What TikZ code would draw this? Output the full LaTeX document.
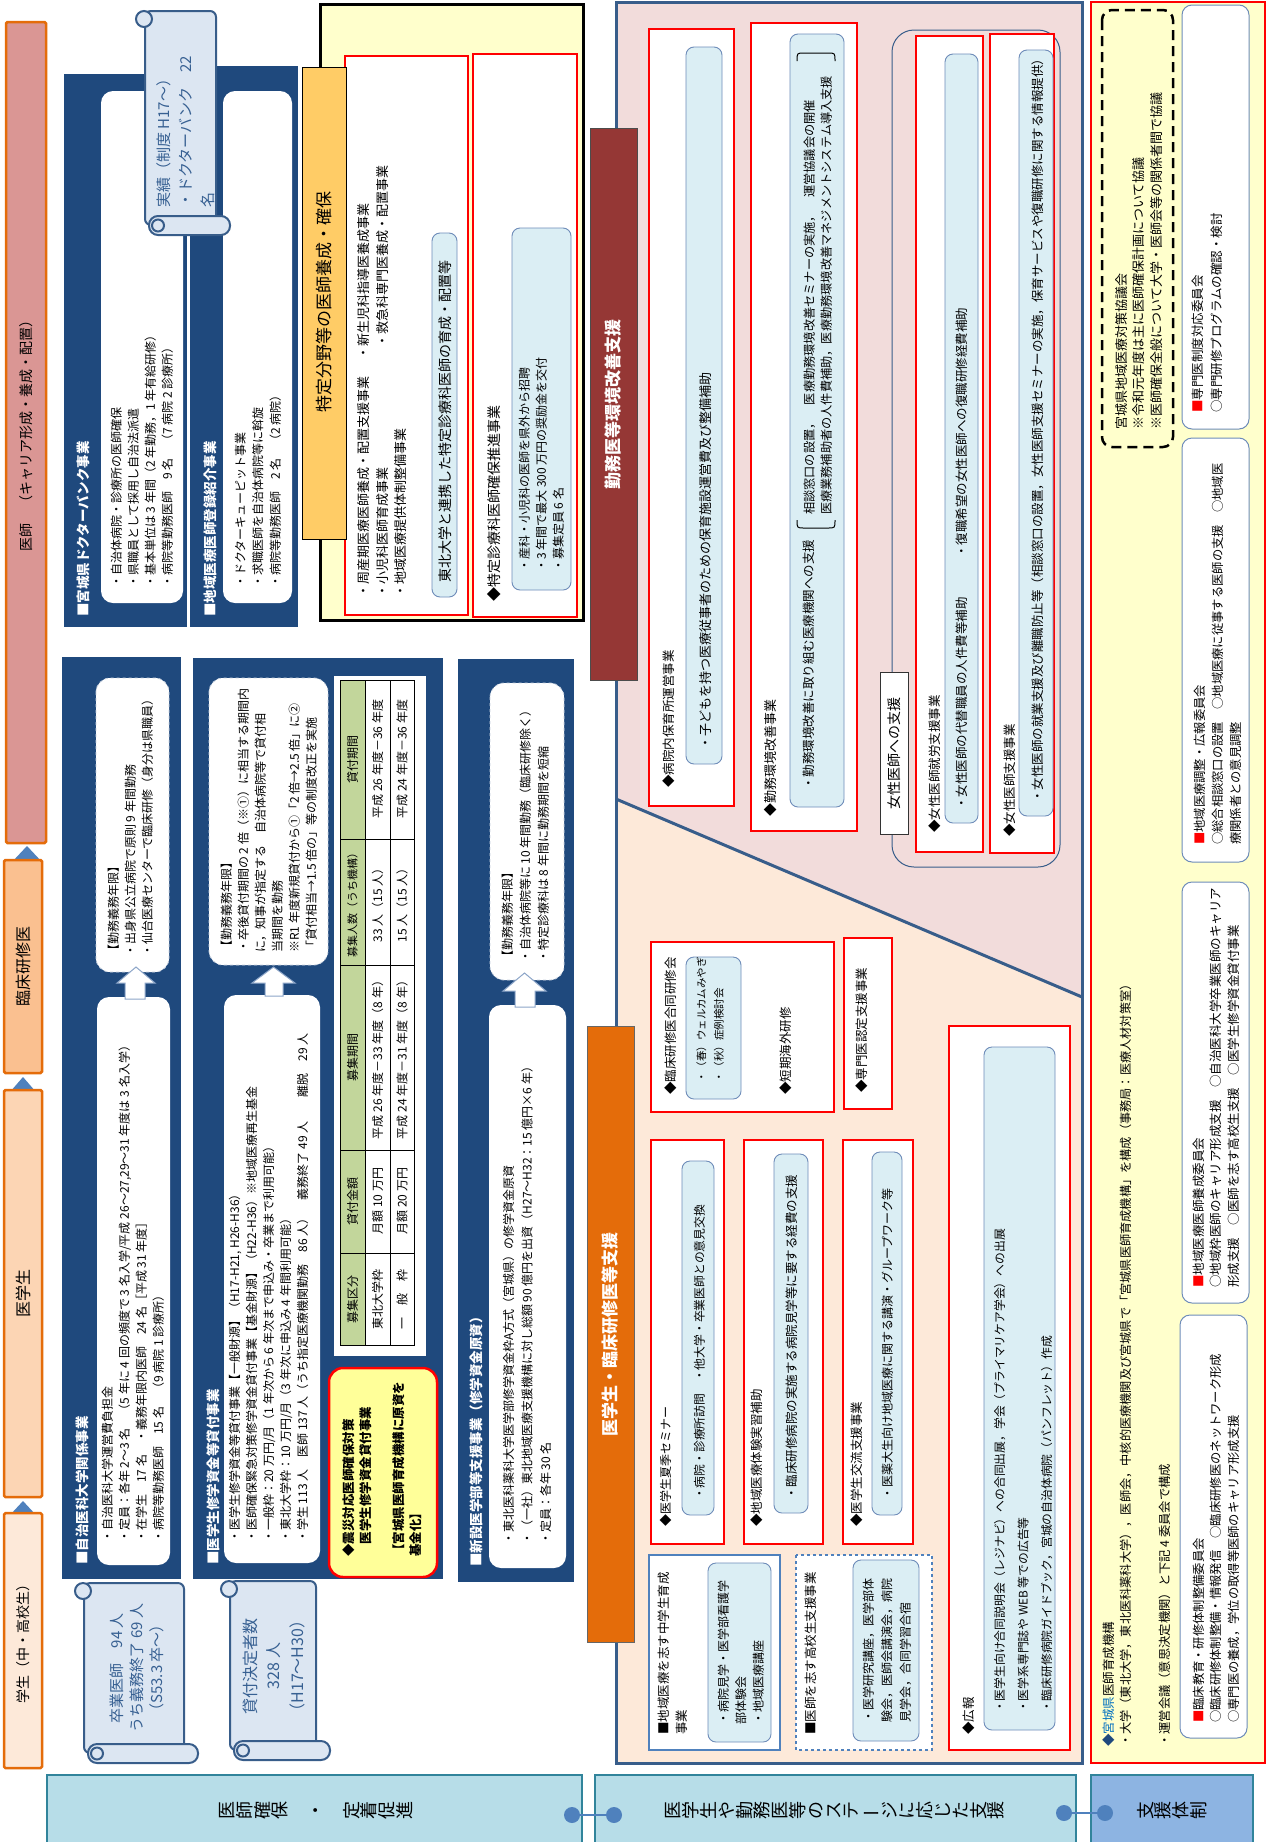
\documentclass[tikz,border=0pt]{standalone}
\usepackage{fontspec}
\setmainfont{Noto Sans CJK JP}
\definecolor{navyc}{RGB}{31,73,125}
\definecolor{bordb}{RGB}{56,93,138}
\definecolor{lbfill}{RGB}{219,238,244}
\definecolor{lbdraw}{RGB}{110,140,185}
\definecolor{scrollf}{RGB}{220,230,242}
\definecolor{scrolld}{RGB}{56,93,138}
\definecolor{scrolltxt}{RGB}{55,96,146}
\definecolor{hdra}{RGB}{218,150,148}
\definecolor{hdrb}{RGB}{250,192,144}
\definecolor{hdrc}{RGB}{252,213,180}
\definecolor{hdrd}{RGB}{253,233,217}
\definecolor{orgb}{RGB}{228,108,10}
\definecolor{pinkc}{RGB}{242,220,219}
\definecolor{peachc}{RGB}{253,233,217}
\definecolor{dred}{RGB}{149,55,53}
\definecolor{yelc}{RGB}{255,255,204}
\definecolor{tkor}{RGB}{255,204,102}
\definecolor{tblg}{RGB}{194,214,155}
\definecolor{yelb}{RGB}{255,255,153}
\definecolor{botf}{RGB}{183,221,232}
\definecolor{botd}{RGB}{49,132,155}
\definecolor{supf}{RGB}{141,180,226}
\definecolor{dotc}{RGB}{79,129,189}
\definecolor{arrd}{RGB}{140,165,200}
\definecolor{mblue}{RGB}{0,112,192}
\tikzset{
  rt/.style={rotate=90,anchor=north west,inner sep=0pt,align=left},
  rc/.style={rotate=90,anchor=center,inner sep=0pt,align=center},
  innerd/.style={fill=white,draw=navyc!25,dashed,line width=0.8pt,rounded corners=14pt},
  redbox/.style={fill=white,draw=red,line width=1.2pt},
  lbbox/.style={fill=lbfill,draw=lbdraw,line width=0.9pt,rounded corners=8pt},
  hdrbar/.style={draw=orgb,line width=2.5pt,rounded corners=1.5pt},
  scrl/.style={fill=scrollf,draw=scrolld,line width=2pt},
  arrst/.style={fill=white,draw=arrd,line width=1pt},
  botbox/.style={draw=botd,line width=2.5pt},
  dotn/.style={circle,fill=dotc,inner sep=0pt,minimum size=16pt},
  conn/.style={draw=dotc,line width=1.5pt},
  wbox/.style={fill=white,draw=lbdraw,line width=1pt,rounded corners=10pt},
}
\newcommand{\tx}[6]{\node[rt,font=\fontsize{#4}{#5}\selectfont] (#1) at ({#2-0.45*#4},#3) {#6};}
\newcommand{\scrollshape}[4]{%
  \draw[scrl,rounded corners=6pt] ({#1+10},{#2+1}) -- ({#3-14},{#2+1}) -- ({#3-14},{#4-10}) -- ({#1+10},{#4-10}) -- cycle;
  \draw[scrl] ({#1+9},{#2+9}) circle (8pt);
  \draw[scrl,rounded corners=9pt] ({#1+14},{#4-19}) rectangle (#3,#4);
  \draw[scrl] ({#1+23},{#4-9.5}) circle (6pt);
}
\newcommand{\uparr}[7]{\draw[arrst] (#5,#7) -- (#5,#4) -- (#1,#4) -- ({(#1+#2)/2},#3) -- (#2,#4) -- (#6,#4) -- (#6,#7) -- cycle;}
\begin{document}
\begin{tikzpicture}[x=1pt,y=-1pt]
\useasboundingbox (0,0) rectangle (1270,1842);
\fill[white] (0,0) rectangle (1270,1842);

% ===== header column =====
\fill[dotc] (27,846) -- (42,862) -- (12,862) -- cycle;
\fill[dotc] (23,1077) -- (36,1092) -- (10,1092) -- cycle;
\fill[dotc] (23,1501) -- (36,1515) -- (10,1515) -- cycle;
\draw[hdrbar,fill=hdra] (6,22) rectangle (46,843);
\draw[hdrbar,fill=hdrb] (4,860) rectangle (42,1073);
\draw[hdrbar,fill=hdrc] (4,1090) rectangle (42,1497);
\draw[hdrbar,fill=hdrd] (4,1513) rectangle (42,1768);
\node[rc,font=\fontsize{14}{14}\selectfont] (h1) at (26,432) {医師　（キャリア形成・養成・配置）};
\node[rc,font=\fontsize{16}{16}\selectfont] (h2) at (23,966) {臨床研修医};
\node[rc,font=\fontsize{16}{16}\selectfont] (h3) at (23,1293) {医学生};
\node[rc,font=\fontsize{14}{14}\selectfont] (h4) at (23,1640) {学生（中・高校生）};

% ===== upper navy blocks =====
\fill[navyc] (64,74) rectangle (187,627);
\fill[navyc] (190,66) rectangle (298,627);
\fill[white,rounded corners=12pt] (101,91) rectangle (183,603);
\fill[white,rounded corners=12pt] (223,91) rectangle (292,603);
\tx{nt1}{83}{617}{13.5}{16}{\color{white}\bfseries ■宮城県ドクターバンク事業}
\tx{nt2}{210}{617}{13.5}{16}{\color{white}\bfseries ■地域医療医師登録紹介事業}
\tx{b1}{116}{588}{12}{17}{・自治体病院・診療所の医師確保\\・県職員として採用し自治法派遣\\・基本単位は 3 年間（2 年勤務，1 年有給研修）\\・病院等勤務医師　9 名　（7 病院 2 診療所）}
\tx{b2}{240}{588}{12}{17.5}{・ドクターキューピット事業\\・求職医師を自治体病院等に斡旋\\・病院等勤務医師　2 名　（2 病院）}
\scrollshape{135}{10}{230}{235}
\tx{s3}{163}{208}{15}{22}{\color{scrolltxt}実績（制度 H17～）\\\color{scrolltxt}・ドクターバンク　22\\\color{scrolltxt}名}

% ===== lower navy blocks =====
\fill[navyc] (62,657) rectangle (181,1579);
\fill[navyc] (193,658) rectangle (443,1579);
\fill[navyc] (458,659) rectangle (574,1582);
\draw[innerd] (96,678) rectangle (169,972);
\fill[white,rounded corners=12pt] (97,997) rectangle (170,1565);
\draw[innerd] (209,678) rectangle (328,965);
\fill[white,rounded corners=12pt] (224,995) rectangle (320,1563);
\fill[white] (334,676) rectangle (426,1356);
\draw[innerd] (490,683) rectangle (564,980);
\fill[white,rounded corners=12pt] (489,1005) rectangle (566,1568);
\uparr{117}{155}{967}{983}{125}{145}{999}
\uparr{252}{295}{967}{983}{265}{283}{996}
\uparr{503}{546}{973}{991}{515}{535}{1007}
\tx{nt3}{82}{1565}{13.5}{16}{\color{white}\bfseries ■自治医科大学関係事業}
\tx{nt4}{213}{1565}{13.5}{16}{\color{white}\bfseries ■医学生修学資金等貸付事業}
\tx{nt5}{476}{1567}{13.5}{16}{\color{white}\bfseries ■新設医学部等支援事業（修学資金原資）}
\tx{b3}{107}{1543}{12}{17}{・自治医科大学運営費負担金\\・定員：各年 2～3 名　（5 年に 4 回の頻度で 3 名入学/平成 26～27,29～31 年度は 3 名入学）\\・在学生　17 名　・義務年限内医師　24 名［平成 31 年度］\\・病院等勤務医師　15 名　（9 病院 1 診療所）}
\tx{b3u}{113}{957}{12}{17}{【勤務義務年限】\\・出身県公立病院で原則 9 年間勤務\\・仙台医療センターで臨床研修（身分は県職員）}
\tx{b4}{234}{1543}{12}{17}{・医学生修学資金等貸付事業【一般財源】（H17-H21, H26-H36）\\・医師確保緊急対策修学資金貸付事業【基金財源】（H22-H36）※地域医療再生基金\\・一般枠：20 万円/月（1 年次から 6 年次まで申込み・卒業まで利用可能）\\・東北大学枠：10 万円/月（3 年次に申込み 4 年間利用可能）\\・学生 113 人　医師 137 人（うち指定医療機関勤務　86 人）　義務終了 49 人　　離脱　29 人}
\tx{b4u}{226}{953}{12}{17}{【勤務義務年限】\\・卒後貸付期間の 2 倍（※①）に相当する期間内\\に，知事が指定する　自治体病院等で貸付相\\当期間を勤務\\※R1 年度新規貸付から①「2 倍→2.5 倍」に②\\「貸付相当→1.5 倍の」等の制度改正を実施}
\tx{b5}{508}{1545}{12}{18.5}{・東北医科薬科大学医学部修学資金枠A方式（宮城県）の修学資金原資\\・（一社）東北地域医療支援機構に対し総額 90 億円を出資（H27～H32：15 億円×6 年）\\・定員：各年 30 名}
\tx{b5u}{507}{963}{12}{18}{【勤務義務年限】\\・自治体病院等に 10 年間勤務（臨床研修除く）\\・特定診療科は 8 年間に勤務期間を短縮}

% table
\fill[tblg] (340,680) rectangle (365,1345);
\draw[line width=1pt] (340,680) rectangle (414,1345);
\draw[line width=0.8pt] (365,680) -- (365,1345) (390,680) -- (390,1345);
\draw[line width=0.8pt] (340,1253) -- (414,1253) (340,1150) -- (414,1150) (340,965) -- (414,965) (340,839) -- (414,839);
\node[rc,font=\fontsize{12}{12}\selectfont] (ta1) at (352.5,1299) {募集区分};
\node[rc,font=\fontsize{12}{12}\selectfont] (ta2) at (352.5,1201) {貸付金額};
\node[rc,font=\fontsize{12}{12}\selectfont] (ta3) at (352.5,1057) {募集期間};
\node[rc,font=\fontsize{11}{11}\selectfont] (ta4) at (352.5,902) {募集人数（うち機構）};
\node[rc,font=\fontsize{12}{12}\selectfont] (ta5) at (352.5,759) {貸付期間};
\node[rc,font=\fontsize{12}{12}\selectfont] (tb1) at (377.5,1299) {東北大学枠};
\node[rc,font=\fontsize{12}{12}\selectfont] (tb2) at (377.5,1201) {月額 10 万円};
\node[rc,font=\fontsize{12}{12}\selectfont] (tb3) at (377.5,1057) {平成 26 年度－33 年度（8 年）};
\node[rc,font=\fontsize{12}{12}\selectfont] (tb4) at (377.5,902) {33 人（15 人）};
\node[rc,font=\fontsize{12}{12}\selectfont] (tb5) at (377.5,759) {平成 26 年度－36 年度};
\node[rc,font=\fontsize{12}{12}\selectfont] (tc1) at (402,1299) {一　般　枠};
\node[rc,font=\fontsize{12}{12}\selectfont] (tc2) at (402,1201) {月額 20 万円};
\node[rc,font=\fontsize{12}{12}\selectfont] (tc3) at (402,1057) {平成 24 年度－31 年度（8 年）};
\node[rc,font=\fontsize{12}{12}\selectfont] (tc4) at (402,902) {15 人（15 人）};
\node[rc,font=\fontsize{12}{12}\selectfont] (tc5) at (402,759) {平成 24 年度－36 年度};

% yellow earthquake box
\draw[fill=yelb,draw=red,line width=2.5pt,rounded corners=14pt] (329,1368) rectangle (437,1577);
\tx{yb}{348}{1557}{12.5}{17}{\bfseries ◆震災対応医師確保対策\\\bfseries \phantom{◆}医学生修学資金貸付事業\\[16pt]\bfseries 【宮城県医師育成機構に原資を\\\bfseries 基金化】}

% scrolls bottom
\scrollshape{74}{1582}{198}{1763}
\scrollshape{220}{1580}{330}{1760}
\node[rc,font=\fontsize{15}{20}\selectfont,text=scrolltxt] (sc1) at (137,1668) {卒業医師　94 人\\うち義務終了 69 人\\（S53.3 卒～）};
\node[rc,font=\fontsize{16}{23.5}\selectfont,text=scrolltxt] (sc2) at (274,1666) {貸付決定者数\\328 人\\（H17～H30）};

% ===== special field frame =====
\draw[fill=yelc,line width=3pt] (320,4) rectangle (583,620);
\draw[redbox] (345,56) rectangle (468,615);
\draw[redbox] (473,54) rectangle (577,617);
\draw[fill=tkor,line width=1pt] (302,67) rectangle (346,539);
\node[rc,font=\fontsize{17}{17}\selectfont] (tk) at (324,302) {特定分野等の医師養成・確保};
\tx{r1a}{363}{598}{13}{13}{・周産期医療医師養成・配置支援事業}
\tx{r1b}{363}{360}{13}{13}{・新生児科指導医養成事業}
\tx{r1c}{382}{598}{13}{13}{・小児科医師育成事業}
\tx{r1d}{382}{348}{13}{13}{・救急科専門医養成・配置事業}
\tx{r1e}{400}{598}{13}{13}{・地域医療提供体制整備事業}
\draw[lbbox] (432,233) rectangle (457,597);
\tx{lb1}{445}{583}{14}{14}{東北大学と連携した特定診療科医師の育成・配置等}
\tx{r2}{493}{602}{14}{14}{◆特定診療科医師確保推進事業}
\draw[lbbox] (512,228) rectangle (571,590);
\tx{r2b}{524}{572}{12}{17}{・産科・小児科の医師を県外から招聘\\・3 年間で最大 300 万円の奨励金を交付\\・募集定員 6 名}

% ===== pink / peach region =====
\fill[pinkc] (616,2) -- (1082,2) -- (1082,997) -- (616,799) -- cycle;
\fill[peachc] (616,799) -- (1082,997) -- (1082,1763) -- (616,1763) -- cycle;
\draw[bordb,line width=3pt] (616,2) rectangle (1082,1763);
\draw[bordb,line width=3pt] (616,799) -- (1082,997);
\draw[fill=dred,draw=black!70,line width=0.8pt] (590,128) rectangle (637,680);
\node[rc,font=\fontsize{17}{17}\selectfont\bfseries,text=white] (kin) at (613,404) {勤務医等環境改善支援};
\draw[fill=orgb,draw=black!60,line width=0.8pt] (587,1026) rectangle (634,1642);
\node[rc,font=\fontsize{17}{17}\selectfont\bfseries,text=white] (oi) at (610,1334) {医学生・臨床研修医等支援};

\draw[redbox] (649,29) rectangle (734,806);
\draw[lbbox] (686,47) rectangle (722,764);
\tx{p1}{668}{788}{12.5}{12.5}{◆病院内保育所運営事業}
\tx{p1b}{705}{750}{13}{13}{・子どもを持つ医療従事者のための保育施設運営費及び整備補助}
\draw[redbox] (751,23) rectangle (857,831);
\draw[lbbox] (790,34) rectangle (844,807);
\tx{p2}{770}{817}{13}{13}{◆勤務環境改善事業}
\tx{p2b}{808}{790}{12.5}{12.5}{・勤務環境改善に取り組む医療機関への支援}
\tx{p2c}{809}{515}{12.2}{17}{相談窓口の設置，　医療勤務環境改善セミナーの実施，　運営協議会の開催\\医療業務補助者の人件費補助，医療勤務環境改善マネジメントシステム導入支援}
\draw[line width=1pt] (797,520) .. controls (797,528) .. (804,528) -- (828,528) .. controls (835,528) .. (835,520);
\draw[line width=1pt] (797,61) .. controls (797,53) .. (804,53) -- (828,53) .. controls (835,53) .. (835,61);

\draw[bordb,line width=1pt,rounded corners=22pt] (892,30) rectangle (1060,867);
\draw[redbox] (916,36) rectangle (983,852);
\draw[lbbox] (945,54) rectangle (978,823);
\draw[redbox] (990,34) rectangle (1054,853);
\draw[lbbox] (1019,50) rectangle (1053,816);
\draw[fill=white,draw=black!80,line width=1pt] (880,672) rectangle (908,834);
\node[rc,font=\fontsize{14}{14}\selectfont] (wl) at (894,753) {女性医師への支援};
\tx{w1}{934}{833}{12.5}{12.5}{◆女性医師就労支援事業}
\tx{w1b}{961}{810}{12.5}{12.5}{・女性医師の代替職員の人件費等補助}
\tx{w1c}{961}{558}{12.5}{12.5}{・復職希望の女性医師への復職研修経費補助}
\tx{w2}{1009}{837}{12.5}{12.5}{◆女性医師支援事業}
\tx{w2b}{1037}{803}{12.5}{12.5}{・女性医師の就業支援及び離職防止等（相談窓口の設置，女性医師支援セミナーの実施，保育サービスや復職研修に関する情報提供）}

\draw[redbox] (651,942) rectangle (834,1112);
\draw[lbbox] (686,957) rectangle (741,1099);
\tx{q1}{670}{1095}{12.5}{12.5}{◆臨床研修医合同研修会}
\tx{q1b}{701}{1083}{10.5}{17.5}{・（春）ウェルカムみやぎ\\・（秋）症例検討会}
\tx{q2}{785}{1095}{12.5}{12.5}{◆短期海外研修}
\draw[redbox] (844,938) rectangle (892,1109);
\tx{q3}{861}{1093}{12.5}{12.5}{◆専門医認定支援事業}
\draw[redbox] (651,1140) rectangle (724,1544);
\draw[lbbox] (682,1161) rectangle (714,1515);
\tx{q4}{665}{1527}{12}{12}{◆医学生夏季セミナー}
\tx{q4b}{699}{1500}{11.8}{11.8}{・病院・診療所訪問　・他大学・卒業医師との意見交換}
\draw[redbox] (744,1140) rectangle (823,1544);
\draw[lbbox] (774,1154) rectangle (808,1513);
\tx{q5}{756}{1527}{12.5}{12.5}{◆地域医療体験実習補助}
\tx{q5b}{791}{1500}{12.5}{12.5}{・臨床研修病院の実施する病院見学等に要する経費の支援}
\draw[redbox] (843,1140) rectangle (913,1544);
\draw[lbbox] (872,1152) rectangle (902,1515);
\tx{q6}{856}{1527}{12.5}{12.5}{◆医学生交流支援事業}
\tx{q6b}{887}{1500}{12}{12}{・医薬大生向け地域医療に関する講演・グループワーク等}
\draw[redbox] (949,1026) rectangle (1070,1750);
\draw[lbbox] (984,1047) rectangle (1055,1730);
\tx{q7}{968}{1735}{12.5}{12.5}{◆広報}
\tx{q7b}{999}{1713}{11.8}{23.5}{・医学生向け合同説明会（レジナビ）への合同出展，学会（プライマリケア学会）への出展\\・医学系専門誌や WEB 等での広告等\\・臨床研修病院ガイドブック，宮城の自治体病院（パンフレット）作成}
\draw[fill=white,draw=dotc,line width=1.5pt] (649,1555) rectangle (780,1750);
\draw[lbbox] (708,1563) rectangle (771,1742);
\tx{q8}{663}{1735}{12.5}{18}{■地域医療を志す中学生育成\\事業}
\tx{q8b}{723}{1725}{12}{17.5}{・病院見学・医学部看護学\\部体験会\\・地域医療講座}
\draw[fill=white,draw=dotc,line width=1.5pt,dashed] (796,1555) rectangle (932,1750);
\draw[lbbox] (853,1560) rectangle (919,1741);
\tx{q9}{810}{1735}{12.5}{12.5}{■医師を志す高校生支援事業}
\tx{q9b}{868}{1723}{12}{18.5}{・医学研究講座，医学部体\\験会，医師会講演会，病院\\見学会，合同学習合宿}

% ===== support column =====
\draw[fill=yelc,draw=red,line width=2.5pt] (1091,2) rectangle (1265,1763);
\draw[line width=2.5pt,dash pattern=on 10pt off 6pt,rounded corners=10pt] (1102,10) rectangle (1173,447);
\tx{s1}{1121}{430}{13}{17.5}{宮城県地域医療対策協議会\\※令和元年度は主に医師確保計画について協議\\※医師確保全般について大学・医師会等の関係者間で協議}
\draw[wbox] (1182,5) rectangle (1249,429);
\draw[wbox] (1182,438) rectangle (1249,862);
\draw[wbox] (1182,882) rectangle (1249,1303);
\draw[wbox] (1180,1315) rectangle (1247,1738);
\tx{sa}{1197}{413}{12.5}{19}{\textcolor{red}{■}専門医制度対応委員会\\○専門研修プログラムの確認・検討}
\tx{sb}{1199}{845}{12.3}{18}{\textcolor{red}{■}地域医療調整・広報委員会\\○総合相談窓口の設置　○地域医療に従事する医師の支援　○地域医\\療関係者との意見調整}
\tx{sc}{1198}{1288}{12.5}{17.5}{\textcolor{red}{■}地域医療医師養成委員会\\○地域枠医師のキャリア形成支援　○自治医科大学卒業医師のキャリア\\形成支援　○医師を志す高校生支援　○医学生修学資金貸付事業}
\tx{sd}{1198}{1723}{12.3}{17.5}{\textcolor{red}{■}臨床教育・研修体制整備委員会\\○臨床研修体制整備・情報発信　○臨床研修医のネットワーク形成\\○専門医の養成，学位の取得等医師のキャリア形成支援}
\tx{sm}{1108}{1747}{12.5}{12.5}{\textcolor{navyc}{◆}\textcolor{mblue}{宮城県}医師育成機構}
\tx{sm2}{1125}{1747}{12.2}{12.2}{・大学（東北大学，東北医科薬科大学），医師会，中核的医療機関及び宮城県で「宮城県医師育成機構」を構成（事務局：医療人材対策室）}
\tx{sm3}{1164}{1747}{12.3}{12.3}{・運営会議（意思決定機関）と下記 4 委員会で構成}

% ===== bottom row =====
\draw[botbox,fill=botf] (47,1775) rectangle (582,1850);
\draw[botbox,fill=botf] (595,1775) rectangle (1076,1850);
\draw[botbox,fill=supf] (1091,1775) rectangle (1253,1850);
\node[rc,font=\fontsize{18}{17.8}\selectfont] (lab1) at (316,1810) {医\\師\\確\\保\\[17.8pt]・\\[17.8pt]定\\着\\促\\進};
\node[rc,font=\fontsize{18}{17.8}\selectfont] (lab2) at (835,1810) {医\\学\\生\\や\\勤\\務\\医\\等\\の\\ス\\テ\\\rotatebox[origin=c]{90}{ー}\\ジ\\に\\応\\じ\\た\\支\\援};
\node[rc,font=\fontsize{18}{17.8}\selectfont] (lab3) at (1172,1810) {支\\援\\体\\制};
\node[dotn] (d1) at (572,1815) {};
\node[dotn] (d2) at (614,1815) {};
\node[dotn] (d3) at (1064,1813) {};
\node[dotn] (d4) at (1105,1813) {};
\draw[conn] (d1) -- (d2);
\draw[conn] (d3) -- (d4);
\end{tikzpicture}
\end{document}
